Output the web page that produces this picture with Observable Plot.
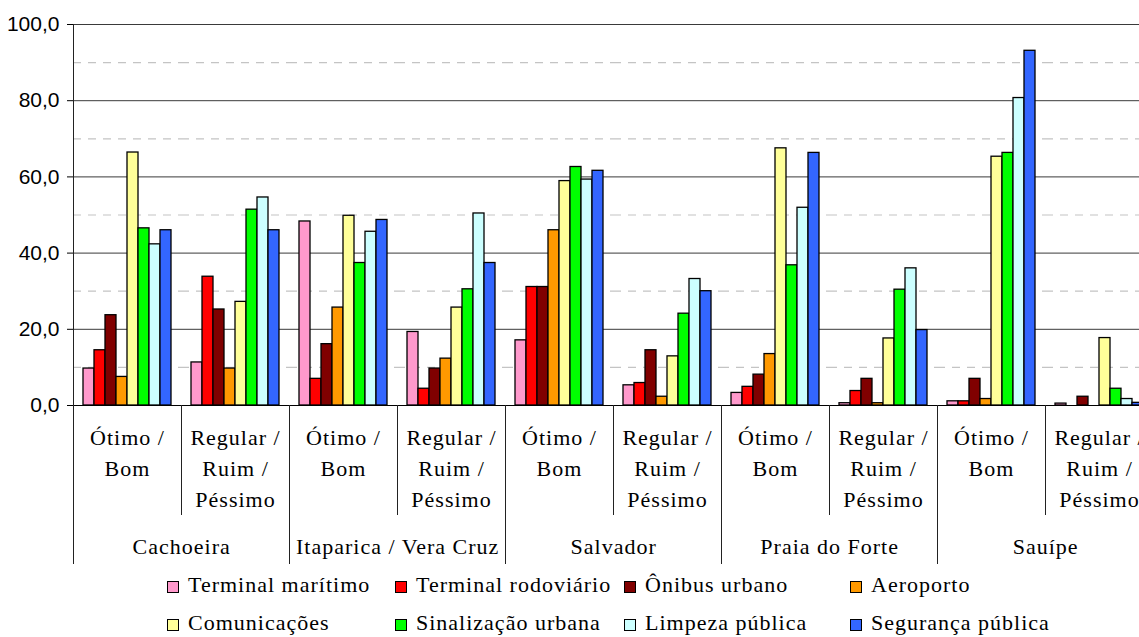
<!DOCTYPE html>
<html><head><meta charset="utf-8">
<script src="https://cdn.jsdelivr.net/npm/d3@7"></script>
<script src="https://cdn.jsdelivr.net/npm/@observablehq/plot@0.6"></script>
<style>
html,body{margin:0;padding:0;background:#fff;overflow:hidden}
#wrap{position:relative;width:1139px;height:637px;background:#fff}
#chart svg{overflow:hidden;display:block}
#chart svg .catlab text{letter-spacing:1px}
.leg{position:absolute;height:24px;line-height:24px;font-family:"Liberation Serif",serif;font-size:22px;letter-spacing:1px;white-space:nowrap;display:flex;align-items:center;color:#000}
.sw{width:12px;height:12px;box-sizing:border-box;border:1.5px solid #000;margin-right:9px;position:relative;top:2px;flex:none}
</style></head><body>
<div id="wrap"><div id="chart"></div><div id="legend"></div></div>
<script>
// ---- data ----
const series = ["Terminal marítimo","Terminal rodoviário","Ônibus urbano","Aeroporto","Comunicações","Sinalização urbana","Limpeza pública","Segurança pública"];
const colors = ["#ff99cc","#ff0000","#800000","#ff9900","#ffff99","#00ff00","#ccffff","#3366ff"];
const locations = ["Cachoeira","Itaparica / Vera Cruz","Salvador","Praia do Forte","Sauípe"];
const ratings = ["Ótimo /\nBom","Regular /\nRuim /\nPéssimo"];
const majorTicks = [0,20,40,60,80,100];
const minorTicks = [10,30,50,70,90];

const cachoeiraOtimo   = [9.7,14.5,23.7,7.5,66.4,46.5,42.3,46.0];
const cachoeiraRegular = [11.3,33.8,25.2,9.7,27.2,51.4,54.6,46.0];
const itaparicaOtimo   = [48.3,7.0,16.1,25.7,49.8,37.4,45.6,48.7];
const itaparicaRegular = [19.3,4.4,9.7,12.3,25.7,30.5,50.4,37.4];
const salvadorOtimo    = [17.1,31.1,31.1,46.0,58.9,62.6,59.3,61.6];
const salvadorRegular  = [5.3,5.9,14.5,2.3,12.9,24.1,33.2,30.0];
const praiaOtimo       = [3.3,4.9,8.1,13.5,67.5,36.8,51.9,66.3];
const praiaRegular     = [0.6,3.8,7.0,0.6,17.6,30.4,36.0,19.8];
const sauipeOtimo      = [1.1,1.1,7.0,1.7,65.3,66.3,80.7,93.1];
const sauipeRegular    = [0.5,0,2.3,0,17.7,4.4,1.7,0.7];

const groupValues = [cachoeiraOtimo,cachoeiraRegular,itaparicaOtimo,itaparicaRegular,salvadorOtimo,salvadorRegular,praiaOtimo,praiaRegular,sauipeOtimo,sauipeRegular];

// ---- build tables ----
const keys = [];
const groupLabels = [];
const locationLabels = [];
locations.forEach(l => ratings.forEach((r, ri) => {
  const k = l + "|" + r;
  keys.push(k);
  groupLabels.push({group: k, label: r});
  if (ri === 0) locationLabels.push({group: k, label: l});
}));
const table = [];
groupValues.forEach((vals, gi) => vals.forEach((v, si) => {
  if (v > 0) table.push({group: keys[gi], series: series[si], value: v});
}));

const W = 1139, H = 570;
const plotLeft = 71, plotRight = 1154, plotTop = 24, plotBottom = 405;
const step = (plotRight - plotLeft) / keys.length;

const chart = Plot.plot({
  width: W, height: H,
  marginLeft: plotLeft, marginRight: 0, marginTop: plotTop, marginBottom: H - plotBottom,
  style: {background: "#fff", overflow: "hidden"},
  fx: {domain: keys, range: [plotLeft, plotRight], paddingInner: 0, paddingOuter: 0, label: null, axis: null},
  x: {domain: series, paddingInner: 0, paddingOuter: 0.71, axis: null},
  y: {domain: [0, 100], axis: null},
  color: {domain: series, range: colors},
  marks: [
    Plot.ruleY(minorTicks, {stroke: "#c4c4c4", strokeWidth: 1.2, strokeDasharray: "8,7"}),
    Plot.ruleY(majorTicks.filter(d => d > 0), {stroke: "#3a3a3a", strokeWidth: 1}),
    Plot.barY(table, {fx: "group", x: "series", y: "value", fill: "series", stroke: "#000", strokeWidth: 1.3}),
    Plot.ruleY([0], {stroke: "#000", strokeWidth: 1.2}),
    Plot.axisY(majorTicks, {tickFormat: d => d.toFixed(1).replace(".", ","), tickSize: 6, tickPadding: 8,
      fontSize: 21, fontFamily: "Liberation Sans", color: "#000", stroke: "#000", label: null}),
    Plot.text(groupLabels, {fx: "group", text: "label", frameAnchor: "bottom", lineAnchor: "top", dy: 17,
      lineHeight: 1.42, fontSize: 22, fontFamily: "Liberation Serif", fill: "#000", className: "catlab"}),
    Plot.text(locationLabels, {fx: "group", text: "label", frameAnchor: "bottom", lineAnchor: "top", dy: 133, dx: step / 2,
      fontSize: 22, fontFamily: "Liberation Serif", fill: "#000", className: "catlab"})
  ]
});
document.getElementById("chart").appendChild(chart);

// category-axis separators and y-axis line, positioned with the fx scale
const fx = chart.scale("fx");
const g = d3.select(chart).append("g").attr("stroke", "#222").attr("stroke-width", 1);
keys.forEach((k, i) => {
  const x = Math.round(fx.apply(k)) + 0.5;
  g.append("line").attr("x1", x).attr("x2", x)
    .attr("y1", i === 0 ? plotTop : plotBottom)
    .attr("y2", i % 2 === 0 ? 564 : 515);
});

// ---- legend ----
const legCols = [167, 395, 624, 850];
const legRows = [573, 611];
const legend = document.getElementById("legend");
series.forEach((s, i) => {
  const d = document.createElement("div");
  d.className = "leg";
  d.style.left = legCols[i % 4] + "px";
  d.style.top = legRows[Math.floor(i / 4)] + "px";
  const sw = document.createElement("span");
  sw.className = "sw";
  sw.style.background = colors[i];
  d.appendChild(sw);
  d.appendChild(document.createTextNode(s));
  legend.appendChild(d);
});
</script>
</body></html>
